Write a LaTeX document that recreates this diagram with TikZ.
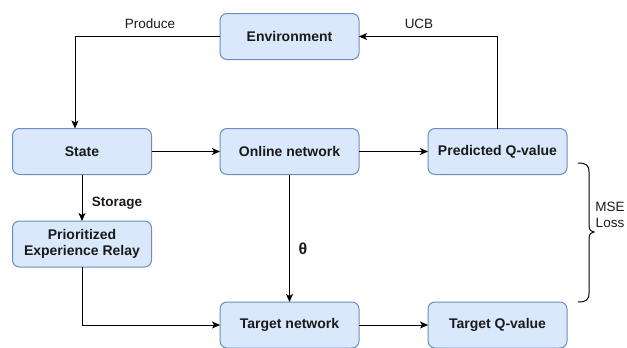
\documentclass[tikz,border=0pt]{standalone}
\usepackage{fontspec}
\setmainfont{Liberation Sans}
\usetikzlibrary{arrows.meta}
\definecolor{boxfill}{HTML}{DAE8FC}
\definecolor{boxline}{HTML}{6C8EBF}
\definecolor{ink}{HTML}{1A1A1A}
\tikzset{
  block/.style={draw=boxline, fill=boxfill, line width=1pt, rounded corners=7pt,
    minimum width=139pt, minimum height=46pt, inner sep=0pt, outer sep=0pt,
    align=center, text=ink, font=\fontsize{14}{16.5}\selectfont\bfseries},
  flow/.style={line width=1pt, -{Stealth[length=8pt,width=7pt,inset=2pt]}},
  lbl/.style={font=\fontsize{13.5}{15}\selectfont, inner sep=1pt, text=ink}
}
\begin{document}
\begin{tikzpicture}[x=1pt,y=-1pt]
\useasboundingbox (0,0) rectangle (627,348);
\node[block] (env)  at (289.5,36.5) {Environment};
\node[block] (state) at (82,151.5) {State};
\node[block] (online) at (289.5,151.5) {Online network};
\node[block] (pred) at (497.5,151.5) {Predicted Q-value};
\node[block] (per) at (82,244) {Prioritized\\Experience Relay};
\node[block] (tnet) at (289.5,325) {Target network};
\node[block] (tq) at (497.5,325) {Target Q-value};

\coordinate (c1) at (75,36.5);
\coordinate (c2) at (497.5,36.5);
\coordinate (c3) at (82,325);

\draw[flow] (env.west) -- (c1) -- (c1 |- state.north);
\draw[flow] (pred.north) -- (c2) -- (env.east);
\draw[flow] (state.east) -- (online.west);
\draw[flow] (online.east) -- (pred.west);
\draw[flow] (state.south) -- (per.north);
\draw[flow] (online.south) -- (tnet.north);
\draw[flow] (per.south) -- (c3) -- (tnet.west);
\draw[flow] (tnet.east) -- (tq.west);

\node[lbl] (produce) at (150,24) {Produce};
\node[lbl] (ucb) at (419,24) {UCB};
\node[lbl, font=\fontsize{13.5}{15}\selectfont\bfseries] (storage) at (117,203) {Storage};
\node[lbl, font=\fontsize{16}{18}\selectfont\bfseries] (theta) at (303,249) {θ};

% curly brace grouping the two Q-values
\draw[line width=1pt] (578,163) .. controls (586,163) and (589,165) .. (589,172)
  -- (589,225) .. controls (589,230) and (591,232) .. (594,232)
  .. controls (591,232) and (589,234) .. (589,239)
  -- (589,293) .. controls (589,300) and (586,302) .. (578,302);
\node[lbl, align=center, font=\fontsize{13.5}{16}\selectfont] (mse) at (610,215) {MSE\\Loss};
\end{tikzpicture}
\end{document}
